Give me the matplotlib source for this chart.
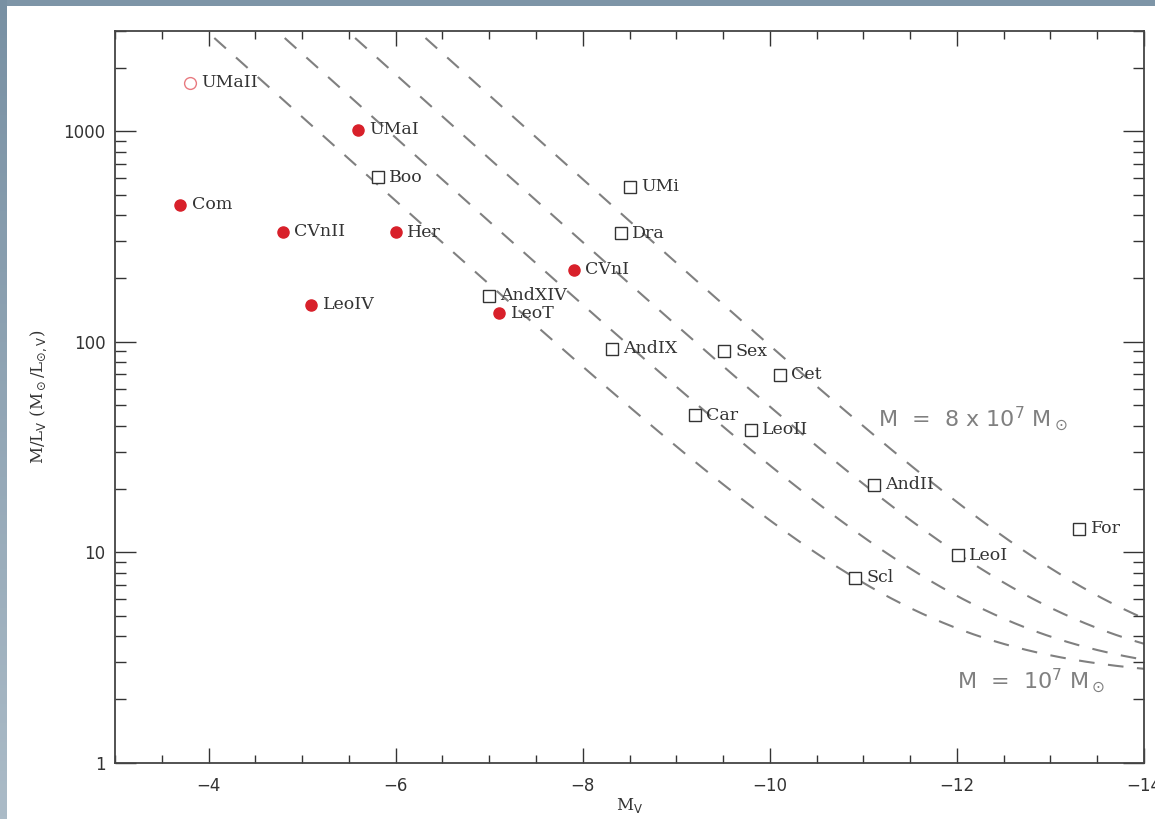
import numpy as np
import matplotlib
matplotlib.use('Agg')
import matplotlib.pyplot as plt
from matplotlib.ticker import LogLocator, MultipleLocator, FixedLocator, NullFormatter

# Dwarf galaxies: absolute magnitude and mass-to-light ratio
new_names = ['Com', 'CVnII', 'LeoIV', 'UMaI', 'Her', 'LeoT', 'CVnI']
new_mv = [-3.70, -4.80, -5.10, -5.60, -6.00, -7.11, -7.91]
new_ml = [447, 334, 150, 1020, 332, 137, 220]

open_names = ['UMaII']
open_mv = [-3.80]
open_ml = [1706]

classic_names = ['Boo', 'AndXIV', 'Dra', 'UMi', 'AndIX', 'Car', 'Sex', 'LeoII',
                 'Cet', 'Scl', 'AndII', 'LeoI', 'For']
classic_mv = [-5.81, -7.00, -8.41, -8.51, -8.31, -9.20, -9.51, -9.80,
              -10.11, -10.91, -11.11, -12.01, -13.31]
classic_ml = [604, 166, 328, 546, 92.6, 44.7, 90, 38.2,
              69.7, 7.55, 20.9, 9.68, 12.9]

# Constant total mass lines (solar masses) plus a stellar M/L
halo_masses = [1e7, 2e7, 4e7, 8e7]
stellar_ml = 2.5
sun_mv = 4.83

red = '#d8202a'
grey = '#808080'
ink = '#333333'

fig = plt.figure(figsize=(11.55, 8.19), dpi=100)
fig.patch.set_facecolor('white')

# slide border strips
top = fig.add_axes([0, 1 - 6 / 819, 1, 6 / 819])
top.set_axis_off()
top.add_patch(plt.Rectangle((0, 0), 1, 1, color='#7e95a7', transform=top.transAxes))
side = fig.add_axes([0, 0, 7 / 1155, 1])
side.imshow(np.linspace(0, 1, 256)[:, None], aspect='auto', extent=[0, 1, 0, 1],
            cmap=matplotlib.colors.LinearSegmentedColormap.from_list('edge', ['#7890a3', '#abbbc7']))
side.set_axis_off()

ax = fig.add_axes([115 / 1155, 1 - 762.7 / 819, (1144 - 115) / 1155, (762.7 - 31) / 819])

mv = np.linspace(-3, -14, 400)
lum = 10 ** (-0.4 * (mv - sun_mv))
for m in halo_masses:
    ax.plot(mv, m / lum + stellar_ml, color=grey, lw=1.5, ls=(0, (7.5, 6.5)), zorder=1)

ax.plot(new_mv, new_ml, 'o', color=red, ms=8, mec=red, zorder=3)
ax.plot(open_mv, open_ml, 'o', mfc='white', mec='#e87a80', mew=1.0, ms=8.5, zorder=3)
ax.plot(classic_mv, classic_ml, 's', mfc='white', mec=ink, mew=1.0, ms=8, zorder=3)

label_font = dict(family='DejaVu Serif', fontsize=12.5, color=ink, va='center')
for names, xs, ys in [(new_names, new_mv, new_ml), (open_names, open_mv, open_ml),
                      (classic_names, classic_mv, classic_ml)]:
    for n, x, y in zip(names, xs, ys):
        ax.annotate(n, (x, y), xytext=(8, 0), textcoords='offset points', **label_font)

ax.text(-11.16, 43, r'M  =  8 x 10$^7$ M$_\odot$', color=grey, fontsize=16,
        family='DejaVu Sans', ha='left', va='center')
ax.text(-12.0, 2.45, r'M  =  10$^7$ M$_\odot$', color=grey, fontsize=16,
        family='DejaVu Sans', ha='left', va='center')

ax.set_xlim(-3, -14)
ax.set_yscale('log')
ax.set_ylim(1, 3000)

ax.xaxis.set_major_locator(FixedLocator([-4, -6, -8, -10, -12, -14]))
ax.set_xticklabels(['\u22124', '\u22126', '\u22128', '\u221210', '\u221212', '\u221214'])
ax.xaxis.set_minor_locator(MultipleLocator(0.5))
ax.yaxis.set_major_locator(FixedLocator([1, 10, 100, 1000]))
ax.set_yticklabels(['1', '10', '100', '1000'])
ax.yaxis.set_minor_locator(LogLocator(base=10, subs=np.arange(2, 10)))
ax.yaxis.set_minor_formatter(NullFormatter())

ax.tick_params(axis='both', which='both', direction='in', top=True, right=True,
               colors=ink, labelcolor=ink, labelsize=12)
ax.tick_params(axis='x', which='major', length=11, width=1.0, pad=10)
ax.tick_params(axis='x', which='minor', length=5.5, width=1.0)
ax.tick_params(axis='y', which='major', length=15, width=1.0, pad=7)
ax.tick_params(axis='y', which='minor', length=8, width=1.0)
for s in ax.spines.values():
    s.set_color('#444444')
    s.set_linewidth(1.3)

ax.set_xlabel(r'M$_\mathrm{V}$', family='DejaVu Serif', fontsize=12, color=ink, labelpad=1)
ax.set_ylabel(r'M/L$_\mathrm{V}$ (M$_\odot$/L$_{\odot\mathrm{,V}}$)', family='DejaVu Serif',
              fontsize=12, color=ink, labelpad=10)

fig.savefig('out.png', dpi=100, facecolor='white')
